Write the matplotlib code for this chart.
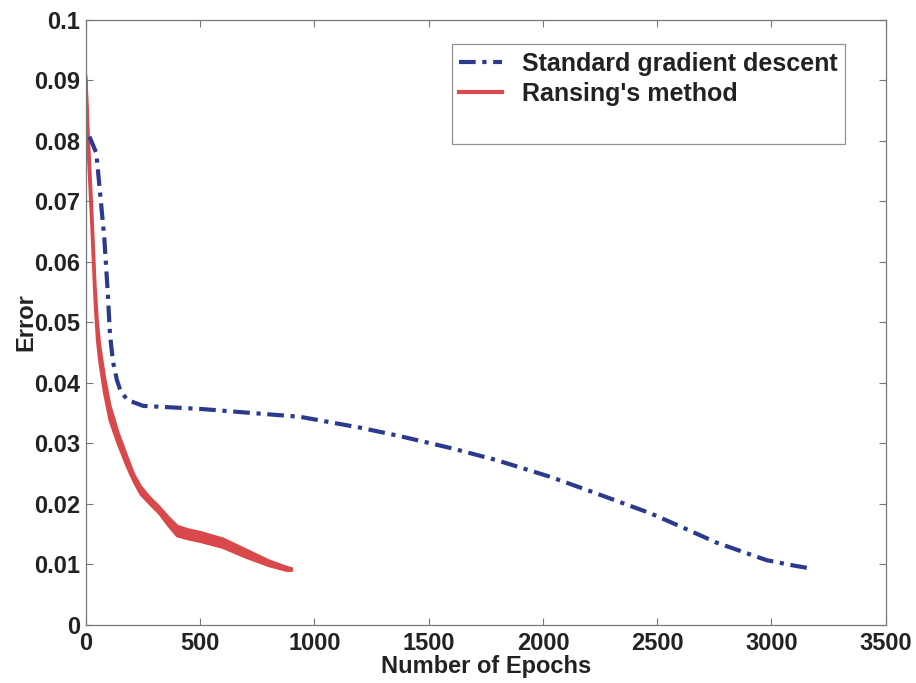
import numpy as np
import matplotlib
matplotlib.use('Agg')
import matplotlib.pyplot as plt
from matplotlib.lines import Line2D

plt.rcParams['font.family'] = ['Liberation Sans', 'DejaVu Sans']
plt.rcParams['font.weight'] = 'bold'
plt.rcParams['axes.labelweight'] = 'bold'

# standard gradient descent error curve
sgd_epochs = [15, 45, 60, 80, 95, 105, 118, 135, 150, 180, 250, 500, 700, 936, 1200, 1374,
              1600, 1800, 2030, 2200, 2467, 2600, 2760, 2979, 3100, 3177]
sgd_error = [0.0807, 0.078, 0.072, 0.064, 0.055, 0.048, 0.0435, 0.0405, 0.0388, 0.0372,
             0.0362, 0.0357, 0.0351, 0.0344, 0.0326, 0.0312, 0.0292, 0.0272, 0.0245,
             0.0222, 0.0185, 0.0163, 0.0136, 0.0107, 0.0098, 0.0093]

# Ransing's method, band of runs (upper / lower envelope)
ran_epochs = [0, 10, 25, 40, 50, 60, 80, 105, 140, 180, 210, 240, 280, 320, 360, 400,
              450, 500, 600, 700, 800, 880, 900]
ran_upper = [0.0907, 0.081, 0.069, 0.056, 0.050, 0.0462, 0.0412, 0.0362, 0.0318, 0.0277,
             0.0248, 0.0228, 0.0210, 0.0195, 0.0178, 0.0163, 0.0157, 0.0153, 0.0142,
             0.0124, 0.0106, 0.0095, 0.0093]
ran_lower = [0.0900, 0.078, 0.066, 0.053, 0.047, 0.0435, 0.0385, 0.0338, 0.0300, 0.0262,
             0.0237, 0.0216, 0.0200, 0.0185, 0.0165, 0.0147, 0.0142, 0.0138, 0.0128,
             0.0112, 0.0098, 0.0090, 0.0090]

xticks = [0, 500, 1000, 1500, 2000, 2500, 3000, 3500]
yticks = [0, 0.01, 0.02, 0.03, 0.04, 0.05, 0.06, 0.07, 0.08, 0.09, 0.1]
ytick_labels = ['0', '0.01', '0.02', '0.03', '0.04', '0.05', '0.06', '0.07', '0.08', '0.09', '0.1']

blue = '#2b3a8c'
red = '#d9484a'
dashdot = (0, (4, 1.6, 1, 1.6))

fig = plt.figure(figsize=(9.16, 6.83), dpi=100)
ax = fig.add_axes([0.0939, 0.085, 0.873, 0.886])

ax.fill_between(ran_epochs, ran_lower, ran_upper, color=red, lw=0)
ax.plot(ran_epochs, ran_upper, color=red, lw=2.2, solid_capstyle='round')
ax.plot(ran_epochs, ran_lower, color=red, lw=2.2, solid_capstyle='round')
ax.plot(sgd_epochs, sgd_error, color=blue, lw=3, linestyle=dashdot)

ax.set_xlim(0, 3500)
ax.set_ylim(0, 0.1)
ax.set_xticks(xticks)
ax.set_xticklabels([str(t) for t in xticks])
ax.set_yticks(yticks)
ax.set_yticklabels(ytick_labels)
ax.tick_params(direction='in', top=True, right=True, length=5, width=0.8,
               color='#777777', labelsize=17, labelcolor='#222222')
ax.tick_params(axis='x', pad=5)
ax.tick_params(axis='y', pad=4)
for s in ax.spines.values():
    s.set_color('#777777')
    s.set_linewidth(0.9)

ax.set_xlabel('Number of Epochs', fontsize=17, color='#222222', labelpad=0)
ax.set_ylabel('Error', fontsize=17, color='#222222', labelpad=-2)

handles = [Line2D([], [], color=blue, lw=3, linestyle=dashdot),
           Line2D([], [], color=red, lw=3),
           Line2D([], [], color='none')]
labels = ['Standard gradient descent', "Ransing's method", ' ']
leg = ax.legend(handles, labels, loc='upper right', bbox_to_anchor=(0.949, 0.960),
                borderaxespad=0, fontsize=18, frameon=True, fancybox=False,
                handlelength=1.7, borderpad=0.3, labelspacing=0.25, handletextpad=0.8)
leg.get_frame().set_edgecolor('#777777')
leg.get_frame().set_linewidth(0.9)
for t in leg.get_texts():
    t.set_color('#222222')

fig.savefig('out.png', dpi=100)
